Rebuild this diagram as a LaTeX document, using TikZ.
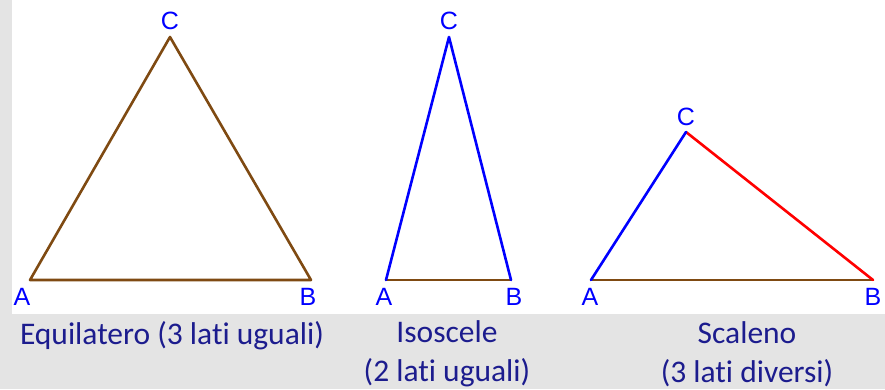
\documentclass[tikz,border=0pt]{standalone}
\usepackage{fontspec}
\setmainfont{Carlito}[Ligatures=NoCommon]
\newfontfamily\labelfont{Liberation Sans}
\usetikzlibrary{positioning}
\definecolor{tribrown}{HTML}{7F4A12}
\definecolor{triblue}{HTML}{0000FF}
\definecolor{trired}{HTML}{FF0000}
\definecolor{capnavy}{HTML}{1C1C8E}
\definecolor{marble}{HTML}{E4E4E4}

\tikzset{
  vlabel/.style={text=triblue, font=\labelfont\fontsize{25}{25}\selectfont, inner sep=0pt},
  caption/.style={text=capnavy, font=\fontsize{31.5}{39}\selectfont, align=center, inner sep=0pt},
  side/.style={line width=2.6pt, line cap=round}
}

\begin{document}
\begin{tikzpicture}[x=1pt, y=-1pt, line join=round]

% Background
\fill[marble] (0,0) rectangle (885,389);
\fill[white] (12,0) rectangle (885,314);

% Equilatero
\coordinate (eqA) at (30,280);
\coordinate (eqB) at (311,280);
\coordinate (eqC) at (170,37);
\draw[side, tribrown] (eqA) -- (eqB) -- (eqC) -- cycle;
\node[vlabel, above=7pt of eqC] (eqCl) {C};
\node[vlabel] (eqAl) at (22,297) {A};
\node[vlabel] (eqBl) at (308,297) {B};

% Isoscele
\coordinate (isA) at (386,280);
\coordinate (isB) at (511,280);
\coordinate (isC) at (449,37);
\draw[side, tribrown] (isA) -- (isB);
\draw[side, triblue] (isB) -- (isC) -- (isA);
\node[vlabel, above=7pt of isC] (isCl) {C};
\node[vlabel] (isAl) at (384,297) {A};
\node[vlabel] (isBl) at (514,297) {B};

% Scaleno
\coordinate (scA) at (591,280);
\coordinate (scB) at (873,280);
\coordinate (scC) at (686,132);
\draw[side, tribrown] (scA) -- (scB);
\draw[side, trired] (scB) -- (scC);
\draw[side, triblue] (scC) -- (scA);
\node[vlabel, above=6pt of scC] (scCl) {C};
\node[vlabel] (scAl) at (590,297) {A};
\node[vlabel] (scBl) at (873,297) {B};

% Captions
\node[caption] (eqcap) at (172,336) {Equilatero (3 lati uguali)};
\node[caption] (iscap) at (447,354) {Isoscele\\(2 lati uguali)};
\node[caption] (sccap) at (747,354) {Scaleno\\(3 lati diversi)};

\end{tikzpicture}
\end{document}
